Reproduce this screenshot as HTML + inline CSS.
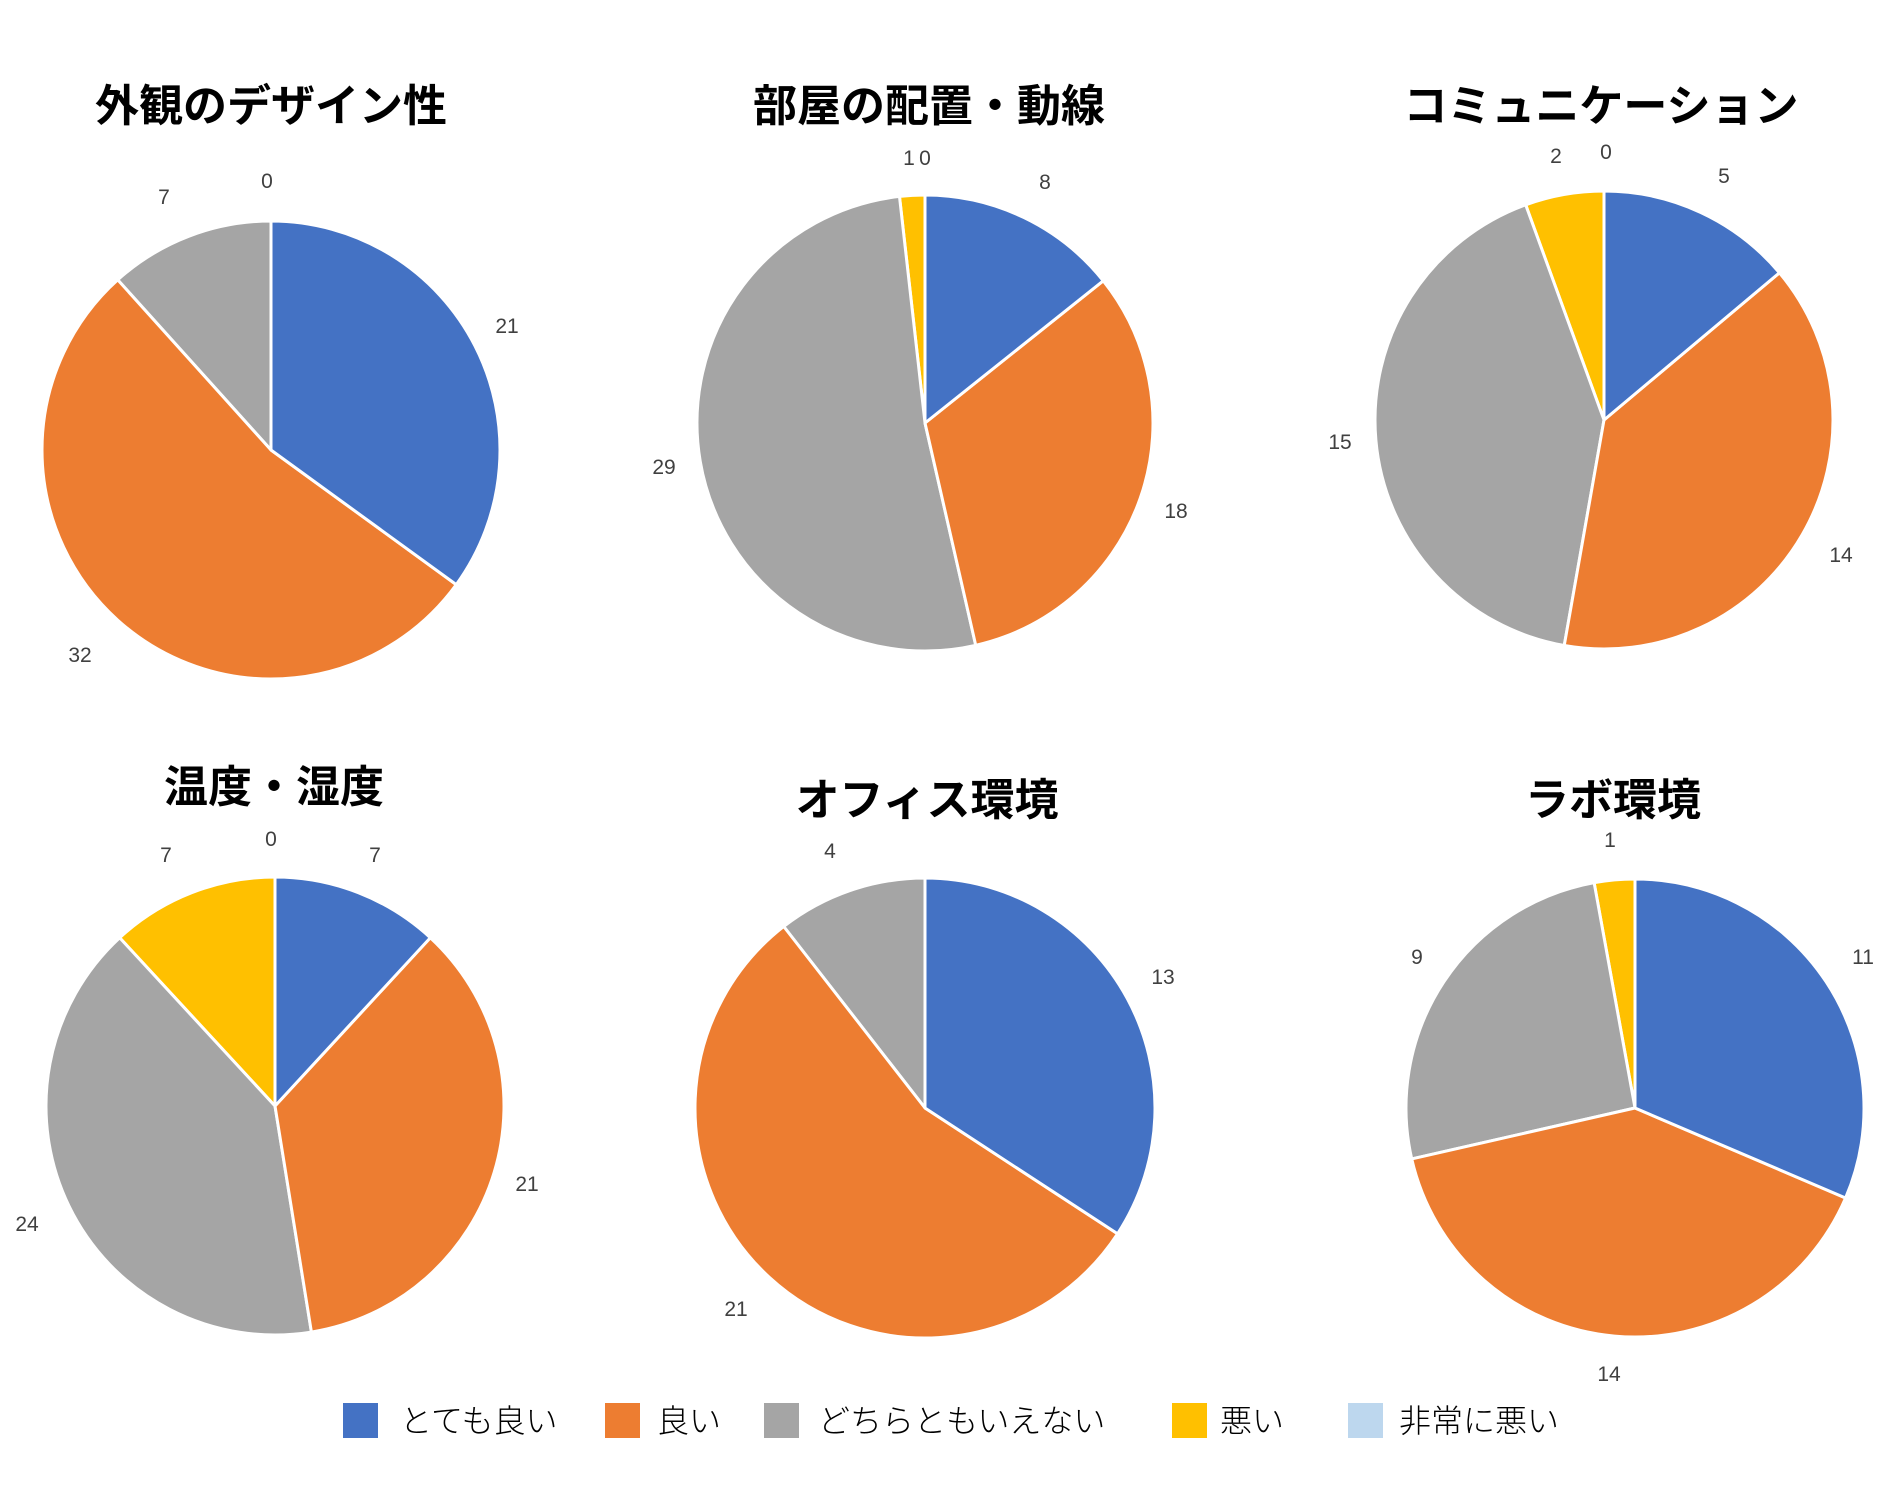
<!DOCTYPE html>
<html><head><meta charset="utf-8">
<style>
html,body{margin:0;padding:0;background:#fff;}
svg{display:block;}
.t{font-family:"Liberation Sans","Noto Sans CJK JP",sans-serif;font-weight:bold;font-size:44px;fill:#000;text-anchor:middle;}
.l{font-family:"Liberation Sans","Noto Sans CJK JP",sans-serif;font-size:21px;fill:#404040;text-anchor:middle;}
.g{font-family:"Noto Sans CJK JP",sans-serif;font-weight:300;font-size:32px;fill:#000;}
</style></head><body>
<svg id="s" width="1902" height="1493" xmlns="http://www.w3.org/2000/svg">
<text class="t" x="271" y="121">外観のデザイン性</text>
<text class="t" x="929" y="121">部屋の配置・動線</text>
<text class="t" x="1601" y="121">コミュニケーション</text>
<text class="t" x="274" y="802">温度・湿度</text>
<text class="t" x="927" y="815">オフィス環境</text>
<text class="t" x="1613" y="815">ラボ環境</text>
<g transform="translate(-5,-3)">
<text class="l" x="512" y="336">21</text>
<text class="l" x="85" y="665">32</text>
<text class="l" x="169" y="207">7</text>
<text class="l" x="272" y="191">0</text>

<text class="l" x="1050" y="192">8</text>
<text class="l" x="1181" y="521">18</text>
<text class="l" x="669" y="477">29</text>
<text class="l" x="914" y="168">1</text>
<text class="l" x="930" y="168">0</text>

<text class="l" x="1729" y="186">5</text>
<text class="l" x="1846" y="565">14</text>
<text class="l" x="1345" y="452">15</text>
<text class="l" x="1561" y="166">2</text>
<text class="l" x="1611" y="162">0</text>

<text class="l" x="380" y="865">7</text>
<text class="l" x="532" y="1194">21</text>
<text class="l" x="32" y="1234">24</text>
<text class="l" x="171" y="865">7</text>
<text class="l" x="276" y="849">0</text>

<text class="l" x="1168" y="987">13</text>
<text class="l" x="741" y="1319">21</text>
<text class="l" x="835" y="861">4</text>

<text class="l" x="1868" y="967">11</text>
<text class="l" x="1614" y="1384">14</text>
<text class="l" x="1422" y="967">9</text>
<text class="l" x="1615" y="850">1</text>
</g>
<rect x="343" y="1403" width="35" height="35" fill="#4472C4"/>
<text class="g" x="400" y="1432">とても良い</text>
<rect x="605" y="1403" width="35" height="35" fill="#ED7D31"/>
<text class="g" x="657" y="1432">良い</text>
<rect x="764" y="1403" width="35" height="35" fill="#A5A5A5"/>
<text class="g" x="818" y="1432">どちらともいえない</text>
<rect x="1172" y="1403" width="35" height="35" fill="#FFC000"/>
<text class="g" x="1220" y="1432">悪い</text>
<rect x="1348" y="1403" width="35" height="35" fill="#BDD7EE"/>
<text class="g" x="1399" y="1432">非常に悪い</text>
</svg>
<script>
var cols=["#4472C4","#ED7D31","#A5A5A5","#FFC000","#BDD7EE"];
var pies=[[271,450,229,[21,32,7,0,0]],[925,423,228,[8,18,29,1,0]],[1604,420,229,[5,14,15,2,0]],
[275,1106,229,[7,21,24,7,0]],[925,1108,230,[13,21,4,0,0]],[1635,1108,229,[11,14,9,1,0]]];
var s=document.getElementById("s"),ns="http://www.w3.org/2000/svg";
pies.forEach(function(p){
 var cx=p[0],cy=p[1],r=p[2],d=p[3],tot=d.reduce(function(a,b){return a+b},0),a=0;
 d.forEach(function(v,i){
  if(!v)return;
  var a0=a/tot*2*Math.PI;a+=v;var a1=a/tot*2*Math.PI;
  var x0=cx+r*Math.sin(a0),y0=cy-r*Math.cos(a0),x1=cx+r*Math.sin(a1),y1=cy-r*Math.cos(a1);
  var path=document.createElementNS(ns,"path");
  path.setAttribute("d","M"+cx+","+cy+"L"+x0+","+y0+"A"+r+","+r+" 0 "+((a1-a0)>Math.PI?1:0)+" 1 "+x1+","+y1+"Z");
  path.setAttribute("fill",cols[i]);path.setAttribute("stroke","#fff");path.setAttribute("stroke-width","3");
  path.setAttribute("stroke-linejoin","round");
  s.insertBefore(path,s.firstChild);
 });
});
</script>
</body></html>
